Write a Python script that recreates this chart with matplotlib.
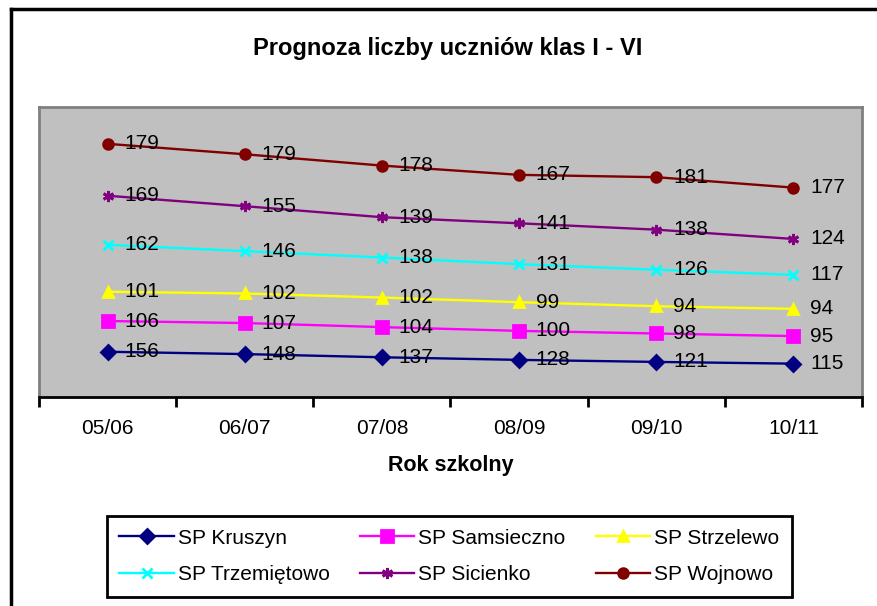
import numpy as np
import matplotlib.pyplot as plt
from matplotlib.lines import Line2D

plt.rcParams['font.family'] = ['Liberation Sans', 'DejaVu Sans']

# Data
years = ["05/06", "06/07", "07/08", "08/09", "09/10", "10/11"]
schools = ["SP Kruszyn", "SP Samsieczno", "SP Strzelewo",
           "SP Trzemiętowo", "SP Sicienko", "SP Wojnowo"]
kruszyn     = [156, 148, 137, 128, 121, 115]
samsieczno  = [106, 107, 104, 100, 98, 95]
strzelewo   = [101, 102, 102, 99, 94, 94]
trzemietowo = [162, 146, 138, 131, 126, 117]
sicienko    = [169, 155, 139, 141, 138, 124]
wojnowo     = [179, 179, 178, 167, 181, 177]

series = [kruszyn, samsieczno, strzelewo, trzemietowo, sicienko, wojnowo]
colors = ['#000080', '#FF00FF', '#FFFF00', '#00FFFF', '#800080', '#800000']
markers = ['D', 's', '^', 'x', (6, 2, 0), 'o']
msizes = [7, 8, 7, 7, 8, 7]

W, H = 878, 606
fig = plt.figure(figsize=(W / 100, H / 100), dpi=100)
ax = fig.add_axes([39 / W, 1 - 397 / H, (862 - 39) / W, (397 - 107) / H])
ax.set_facecolor('#C0C0C0')

x = np.arange(len(years)) + 0.5
cum = np.cumsum(np.array(series), axis=0)   # stacked line chart

handles = []
for vals, tot, name, c, m, ms in zip(series, cum, schools, colors, markers, msizes):
    h, = ax.plot(x, tot, color=c, lw=1.7, marker=m, ms=ms, mec=c, mfc=c, mew=2, label=name)
    handles.append(h)
    for xi, yi, v in zip(x, tot, vals):
        ax.annotate(str(v), (xi, yi), xytext=(12, 0), textcoords='offset points',
                    va='center', ha='left', fontsize=15, color='black')

ax.set_xlim(0, len(years))
ax.set_ylim(0, 1000)
ax.set_yticks([])
ax.set_xticks(np.arange(len(years) + 1))
ax.set_xticklabels([])
ax.set_xticks(x, minor=True)
ax.set_xticklabels(years, minor=True, fontsize=15)
ax.tick_params(axis='x', which='major', direction='out', length=7, width=2, color='black')
ax.tick_params(axis='x', which='minor', length=0, pad=16)
for s in ['left', 'top', 'right']:
    ax.spines[s].set_color('#808080')
    ax.spines[s].set_linewidth(2)
ax.spines['bottom'].set_color('black')
ax.spines['bottom'].set_linewidth(2)

ax.set_xlabel("Rok szkolny", fontsize=15.5, fontweight='bold', labelpad=12)
fig.text(448 / W, 1 - 48 / H, "Prognoza liczby uczniów klas I - VI",
         fontsize=17, fontweight='bold', ha='center', va='center')

# outer frame (left and top edges only visible)
fig.add_artist(Line2D([11 / W, 11 / W], [1 - 9 / H, 0], color='black', lw=2.5,
                      transform=fig.transFigure))
fig.add_artist(Line2D([11 / W, 1], [1 - 9 / H, 1 - 9 / H], color='black', lw=2.5,
                      transform=fig.transFigure))

# legend filled row by row like the original
order = [0, 3, 1, 4, 2, 5]
leg = fig.legend([handles[i] for i in order], [schools[i] for i in order],
                 loc='upper left', ncol=3, fontsize=15, numpoints=1,
                 bbox_to_anchor=(107 / W, 1 - 597 / H, 685 / W, 81 / H), mode='expand',
                 borderaxespad=0, handlelength=2.6, handletextpad=0.2,
                 labelspacing=0.85, borderpad=0.6, fancybox=False, framealpha=1)
leg.get_frame().set_edgecolor('black')
leg.get_frame().set_linewidth(2)

fig.savefig('out.png', dpi=100)
